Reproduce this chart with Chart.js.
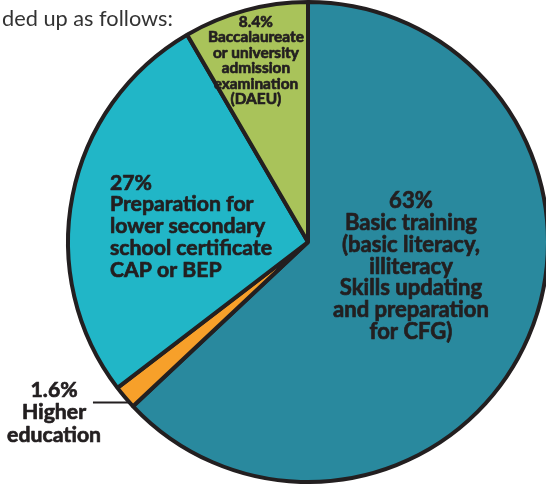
<!DOCTYPE html>
<html><head><meta charset="utf-8">
<script src="https://cdn.jsdelivr.net/npm/chart.js@4/dist/chart.umd.min.js"></script>
<style>
html,body{margin:0;padding:0;background:#fff;overflow:hidden}
#wrap{position:relative;width:546px;height:484px}
canvas{position:absolute;left:0;top:0}
#intro{position:absolute;left:2px;top:0px;font-family:Lato,"Open Sans",sans-serif;font-weight:400;color:#333;white-space:nowrap;z-index:2;line-height:1}
</style></head><body>
<div id="wrap"><canvas id="c" width="546" height="484"></canvas><div id="intro">ded up as follows:</div></div>
<script>
// ---- data ----
const categories = [
  ["Basic training", "(basic literacy,", "illiteracy", "Skills updating", "and preparation", "for CFG)"],
  ["Higher", "education"],
  ["Preparation for", "lower secondary", "school certificate", "CAP or BEP"],
  ["Baccalaureate", "or university", "admission", "examination", "(DAEU)"]
];
const shares = [63, 1.6, 27, 8.4];
const sliceColors = ["#29899e", "#f7a02a", "#21b6c7", "#a9c35a"];

// fit the intro text width
(function(){
  const el = document.getElementById('intro');
  const cv = document.createElement('canvas').getContext('2d');
  cv.font = '400 20px Lato';
  const w = cv.measureText(el.textContent).width;
  el.style.fontSize = (20 * 171 / w).toFixed(2) + 'px';
  el.style.top = '8px';
})();

const sliceLabels = {
  id: 'sliceLabels',
  afterDatasetsDraw(chart, args, opts) {
    const ctx = chart.ctx;
    const meta = chart.getDatasetMeta(0);
    meta.data.forEach((arc, i) => {
      const p = opts.place[i];
      const R = arc.outerRadius, cx = arc.x, cy = arc.y;
      const lines = [chart.data.datasets[0].data[i] + '%'].concat(chart.data.labels[i]);
      ctx.save();
      ctx.font = 'bold 20px ' + opts.family;
      const w = Math.max(...lines.map(l => ctx.measureText(l).width));
      const size = 20 * p.width / w;
      ctx.font = 'bold ' + size.toFixed(2) + 'px ' + opts.family;
      ctx.fillStyle = opts.color;
      ctx.strokeStyle = opts.color;
      ctx.lineWidth = 0.7;
      ctx.lineJoin = 'round';
      ctx.textBaseline = 'middle';
      ctx.textAlign = p.align;
      const bx = cx + p.dx * R, by = cy + p.dy * R;
      const n = lines.length;
      lines.forEach((l, k) => {
        const y = by + (k - (n - 1) / 2) * p.lh;
        ctx.fillText(l, bx, y);
        ctx.strokeText(l, bx, y);
      });
      if (p.leader) {
        const ly = cy + p.leader.dy * R;
        const x0 = cx + p.leader.dx * R;
        const x1 = cx - Math.sqrt(R * R - (ly - cy) * (ly - cy));
        ctx.lineWidth = 2;
        ctx.beginPath(); ctx.moveTo(x0, ly); ctx.lineTo(x1, ly); ctx.stroke();
      }
      ctx.restore();
    });
  }
};

new Chart(document.getElementById('c'), {
  type: 'pie',
  data: {
    labels: categories,
    datasets: [{
      data: shares,
      backgroundColor: sliceColors,
      borderColor: '#231f20',
      borderWidth: 4,
      radius: 240
    }]
  },
  options: {
    responsive: false,
    animation: false,
    events: [],
    layout: { padding: { left: 70, right: 0, top: 0, bottom: 0 } },
    plugins: {
      legend: { display: false },
      tooltip: { enabled: false },
      sliceLabels: {
        family: 'Lato, "Open Sans", sans-serif',
        color: '#231f20',
        place: [
          { dx: 0.429, dy: 0.102, align: 'center', width: 156, lh: 21.8 },
          { dx: -1.058, dy: 0.710, align: 'center', width: 94, lh: 22.5, leader: { dx: -0.896, dy: 0.669 } },
          { dx: -0.825, dy: -0.065, align: 'left', width: 162, lh: 21.75 },
          { dx: -0.217, dy: -0.756, align: 'center', width: 96, lh: 15.4 }
        ]
      }
    }
  },
  plugins: [sliceLabels]
});
</script>
</body></html>
